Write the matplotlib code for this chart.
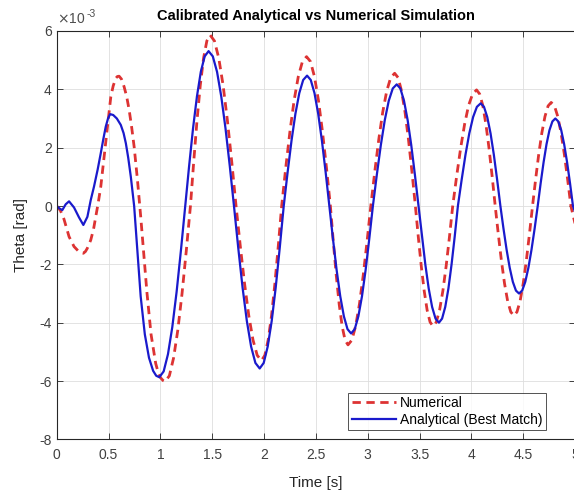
import numpy as np
import matplotlib
matplotlib.use('Agg')
import matplotlib.pyplot as plt

plt.rcParams['font.family'] = ['Liberation Sans', 'DejaVu Sans']
plt.rcParams['axes.unicode_minus'] = False

# values, theta in units of 1e-3 rad
t_num = [0, 0.035, 0.07, 0.119, 0.167, 0.21, 0.235, 0.257, 0.277, 0.295, 0.328, 0.355, 0.377, 0.4,
         0.425, 0.457, 0.489, 0.522, 0.545, 0.57, 0.585, 0.602, 0.625, 0.65, 0.675, 0.699,
         0.723, 0.747, 0.779, 0.81, 0.837, 0.87, 0.91, 0.955, 0.98, 1.0, 1.025, 1.046,
         1.0867, 1.1273, 1.168, 1.2087, 1.2493, 1.29,
         1.3217, 1.3533, 1.385, 1.4167, 1.4483, 1.48,
         1.5217, 1.5633, 1.605, 1.6467, 1.6883, 1.73,
         1.7708, 1.8117, 1.8525, 1.8933, 1.9342, 1.975,
         2.0075, 2.04, 2.0725, 2.105, 2.1375, 2.17,
         2.21, 2.25, 2.29, 2.33, 2.37, 2.41,
         2.4483, 2.4867, 2.525, 2.5633, 2.6017, 2.64,
         2.6683, 2.6967, 2.725, 2.7533, 2.7817, 2.81,
         2.8467, 2.8833, 2.92, 2.9567, 2.9933, 3.03,
         3.0683, 3.1067, 3.145, 3.1833, 3.2217, 3.26,
         3.2933, 3.3267, 3.36, 3.3933, 3.4267, 3.46,
         3.4883, 3.5167, 3.545, 3.5733, 3.6017, 3.63,
         3.6617, 3.6933, 3.725, 3.7567, 3.7883, 3.82,
         3.8583, 3.8967, 3.935, 3.9733, 4.0117, 4.05,
         4.08, 4.11, 4.14, 4.17, 4.2, 4.23,
         4.26, 4.29, 4.32, 4.35, 4.38, 4.41,
         4.44, 4.47, 4.5, 4.53, 4.56, 4.59,
         4.62, 4.65, 4.68, 4.71, 4.74, 4.77,
         4.8017, 4.8333, 4.865, 4.8967, 4.9283, 4.96, 5.0]
theta_num = [0, -0.15, -0.45, -1.05, -1.39, -1.55, -1.6, -1.62, -1.56, -1.45, -1.17, -0.8, -0.37, 0.1,
             0.66, 1.69, 2.72, 3.75, 4.12, 4.38, 4.44, 4.45, 4.35, 4.09, 3.75, 3.29,
             2.7, 2.03, 0.89, -0.35, -1.5, -2.95, -4.4, -5.4, -5.72, -5.88, -5.98, -6.02,
             -5.82, -5.21, -4.26, -3.01, -1.56, 0,
             1.52, 2.93, 4.14, 5.07, 5.66, 5.86,
             5.66, 5.07, 4.14, 2.93, 1.52, 0,
             -1.37, -2.65, -3.75, -4.59, -5.12, -5.3,
             -5.12, -4.59, -3.75, -2.65, -1.37, 0,
             1.33, 2.56, 3.62, 4.43, 4.95, 5.12,
             4.95, 4.43, 3.62, 2.56, 1.33, 0,
             -1.23, -2.38, -3.37, -4.12, -4.6, -4.76,
             -4.6, -4.12, -3.37, -2.38, -1.23, 0,
             1.18, 2.28, 3.22, 3.94, 4.4, 4.55,
             4.4, 3.94, 3.22, 2.28, 1.18, 0,
             -1.07, -2.06, -2.91, -3.57, -3.98, -4.12,
             -3.98, -3.57, -2.91, -2.06, -1.07, 0,
             1.03, 1.99, 2.81, 3.45, 3.84, 3.98,
             3.84, 3.45, 2.81, 1.99, 1.03, 0,
             -0.97, -1.88, -2.66, -3.26, -3.63, -3.76,
             -3.63, -3.26, -2.66, -1.88, -0.97, 0,
             0.92, 1.78, 2.51, 3.07, 3.43, 3.55,
             3.43, 3.07, 2.51, 1.78, 0.92, 0, -0.6]

t_ana = [0, 0.025, 0.054, 0.087, 0.119, 0.167, 0.215, 0.257, 0.296, 0.328, 0.36,
         0.395, 0.425, 0.45, 0.473, 0.495, 0.515, 0.545, 0.58, 0.618, 0.645, 0.667, 0.69,
         0.715, 0.747, 0.779, 0.81, 0.85, 0.89, 0.93, 0.96, 0.99,
         1.0317, 1.0733, 1.115, 1.1567, 1.1983, 1.24,
         1.2775, 1.315, 1.3525, 1.39, 1.4275, 1.465,
         1.5058, 1.5467, 1.5875, 1.6283, 1.6692, 1.71,
         1.7513, 1.7927, 1.834, 1.8753, 1.9167, 1.958,
         1.9967, 2.0353, 2.074, 2.1127, 2.1513, 2.19,
         2.2275, 2.265, 2.3025, 2.34, 2.3775, 2.415,
         2.4508, 2.4867, 2.5225, 2.5583, 2.5942, 2.63,
         2.665, 2.7, 2.735, 2.77, 2.805, 2.84,
         2.875, 2.91, 2.945, 2.98, 3.015, 3.05,
         3.0883, 3.1267, 3.165, 3.2033, 3.2417, 3.28,
         3.315, 3.35, 3.385, 3.42, 3.455, 3.49,
         3.5228, 3.5557, 3.5885, 3.6213, 3.6542, 3.687,
         3.7175, 3.748, 3.7785, 3.809, 3.8395, 3.87,
         3.9067, 3.9433, 3.98, 4.0167, 4.0533, 4.09,
         4.1217, 4.1533, 4.185, 4.2167, 4.2483, 4.28,
         4.31, 4.34, 4.37, 4.4, 4.43, 4.46,
         4.49, 4.52, 4.55, 4.58, 4.61, 4.64,
         4.6683, 4.6967, 4.725, 4.7533, 4.7817, 4.81,
         4.8383, 4.8667, 4.895, 4.9233, 4.9517, 4.98, 5.0]
theta_ana = [0, -0.08, -0.14, 0.06, 0.16, -0.05, -0.39, -0.65, -0.37, 0.2, 0.67,
             1.25, 1.81, 2.3, 2.72, 3.0, 3.15, 3.12, 3.0, 2.78, 2.5, 2.15, 1.65,
             1.0, 0.0, -1.6, -3.1, -4.4, -5.2, -5.65, -5.82, -5.87,
             -5.67, -5.08, -4.15, -2.94, -1.52, 0,
             1.38, 2.66, 3.75, 4.6, 5.13, 5.31,
             5.13, 4.6, 3.75, 2.66, 1.38, 0,
             -1.44, -2.79, -3.94, -4.82, -5.38, -5.57,
             -5.38, -4.82, -3.94, -2.79, -1.44, 0,
             1.16, 2.24, 3.16, 3.87, 4.32, 4.47,
             4.32, 3.87, 3.16, 2.24, 1.16, 0,
             -1.13, -2.19, -3.09, -3.78, -4.22, -4.37,
             -4.22, -3.78, -3.09, -2.19, -1.13, 0,
             1.08, 2.09, 2.95, 3.61, 4.03, 4.17,
             4.03, 3.61, 2.95, 2.09, 1.08, 0,
             -1.04, -2.0, -2.83, -3.46, -3.86, -4.0,
             -3.86, -3.46, -2.83, -2.0, -1.04, 0,
             0.91, 1.76, 2.49, 3.05, 3.4, 3.52,
             3.4, 3.05, 2.49, 1.76, 0.91, 0,
             -0.78, -1.5, -2.12, -2.6, -2.9, -3.0,
             -2.9, -2.6, -2.12, -1.5, -0.78, 0,
             0.78, 1.5, 2.12, 2.6, 2.9, 3.0,
             2.9, 2.6, 2.12, 1.5, 0.78, 0, -0.2]

x_ticks = [0, 0.5, 1, 1.5, 2, 2.5, 3, 3.5, 4, 4.5, 5]
y_ticks = [-8, -6, -4, -2, 0, 2, 4, 6]

dark = (0.15, 0.15, 0.15)

fig = plt.figure(figsize=(5.74, 4.92), dpi=100)
ax = fig.add_axes([0.0988, 0.107, 0.903, 0.830])

ax.plot(t_num, theta_num, color='#dd3333', lw=2.0, dashes=(3, 2), label='Numerical')
ax.plot(t_ana, theta_ana, color='#1a1acc', lw=1.6, solid_joinstyle='round',
        label='Analytical (Best Match)')

ax.set_xlim(0, 5)
ax.set_ylim(-8, 6)
ax.set_xticks(x_ticks)
ax.set_yticks(y_ticks)
ax.set_xticklabels(['%g' % v for v in x_ticks])
ax.set_yticklabels(['%g' % v for v in y_ticks])
ax.tick_params(direction='in', length=4, width=0.6, colors=dark, labelsize=10,
               top=True, right=True, labelcolor=(0.25, 0.25, 0.25))
ax.tick_params(axis='x', pad=6)
for s in ax.spines.values():
    s.set_color(dark)
    s.set_linewidth(0.8)
ax.grid(True, color=(0.87, 0.87, 0.87), lw=0.6)
ax.set_axisbelow(True)

ax.set_xlabel('Time [s]', fontsize=11, color=dark, labelpad=10)
ax.set_ylabel('Theta [rad]', fontsize=11, color=dark, labelpad=8)
ax.set_title('Calibrated Analytical vs Numerical Simulation', fontsize=10.5,
             fontweight='bold', pad=8)
ax.text(0.0, 1.012, r'$\times$10', transform=ax.transAxes, fontsize=10,
        color=(0.3, 0.3, 0.3), ha='left', va='bottom')
ax.text(0.058, 1.03, '-3', transform=ax.transAxes, fontsize=7.5,
        color=(0.3, 0.3, 0.3), ha='left', va='bottom')

leg = ax.legend(loc='lower right', bbox_to_anchor=(0.95, 0.015), fontsize=10,
                frameon=True, fancybox=False, handlelength=3.2, borderpad=0.25,
                labelspacing=0.2, handletextpad=0.3, borderaxespad=0.2)
leg.get_frame().set_edgecolor(dark)
leg.get_frame().set_linewidth(0.7)

fig.savefig('out.png', dpi=100)
